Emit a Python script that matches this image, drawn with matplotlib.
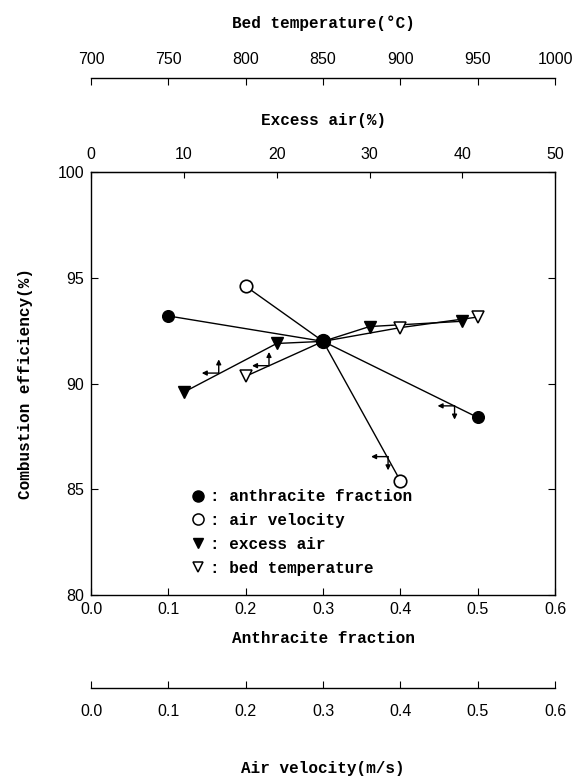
import matplotlib
matplotlib.use("Agg")
import matplotlib.pyplot as plt
import matplotlib.lines as mlines

# data
anth_x = [0.1, 0.3, 0.5]
anth_y = [93.2, 92.0, 88.4]
vel_x = [0.2, 0.3, 0.4]
vel_y = [94.6, 92.0, 85.4]
excess_x = [10, 20, 25, 30, 40]
excess_y = [89.6, 91.9, 92.0, 92.7, 92.95]
bedT_x = [800, 850, 900, 950]
bedT_y = [90.35, 92.0, 92.65, 93.15]

# small arrow pairs drawn on each line (anchor x on main scale, anchor y, vertical direction)
arrow_x = [0.165, 0.230, 0.470, 0.384]
arrow_y = [90.5, 90.85, 88.95, 86.55]
arrow_dir = [1, 1, -1, -1]

mono = "Liberation Mono"
sans = "Liberation Sans"
plt.rcParams['font.family'] = sans
plt.rcParams['font.size'] = 11.5

# conversions between the main anthracite scale and the other axes
def to_excess(x): return x * 50 / 0.6
def from_excess(e): return e * 0.6 / 50
def to_bed(x): return 700 + x * 500
def from_bed(t): return (t - 700) / 500

fig = plt.figure(figsize=(5.77, 7.79), dpi=100)
ax = fig.add_axes([0.158, 0.236, 0.804, 0.543])

lw = 1.0
ax.plot(anth_x, anth_y, color='black', lw=lw, marker='o', ms=8.4, markevery=[0, 2])
ax.plot(vel_x, vel_y, color='black', lw=lw, marker='o', ms=9, mfc='white', mew=1.2, markevery=[0, 2])
ax.plot([from_excess(e) for e in excess_x], excess_y, color='black', lw=lw,
        marker='v', ms=8, markevery=[0, 1, 3, 4])
ax.plot([from_bed(t) for t in bedT_x], bedT_y, color='black', lw=lw,
        marker='v', ms=8.5, mfc='white', mew=1.1, markevery=[0, 2, 3])
ax.plot(anth_x[1], anth_y[1], 'o', color='black', ms=10)

for x, y, d in zip(arrow_x, arrow_y, arrow_dir):
    ax.annotate('', xy=(x - 0.022, y), xytext=(x, y),
                arrowprops=dict(arrowstyle='-|>', color='black', lw=1.0,
                                mutation_scale=7, shrinkA=0, shrinkB=0))
    ax.annotate('', xy=(x, y + d * 0.65), xytext=(x, y),
                arrowprops=dict(arrowstyle='-|>', color='black', lw=1.0,
                                mutation_scale=7, shrinkA=0, shrinkB=0))

lab = dict(family=mono, fontsize=11.5, fontweight='bold')

ax.set_xlim(0, 0.6)
ax.set_ylim(80, 100)
ax.set_xticks([0.0, 0.1, 0.2, 0.3, 0.4, 0.5, 0.6])
ax.set_xticklabels(['0.0', '0.1', '0.2', '0.3', '0.4', '0.5', '0.6'])
ax.set_yticks([80, 85, 90, 95, 100])
ax.tick_params(direction='in', length=5, width=0.8, right=True, labelright=False, pad=5)
ax.set_xlabel('Anthracite fraction', labelpad=10, **lab)
ax.set_ylabel('Combustion efficiency(%)', labelpad=18, **lab)
for s in ax.spines.values():
    s.set_linewidth(1.0)

# top: excess air
top = ax.secondary_xaxis('top', functions=(to_excess, from_excess))
top.set_xticks([0, 10, 20, 30, 40, 50])
top.tick_params(direction='in', length=4, width=0.8, pad=7)
top.set_xlabel('Excess air(%)', labelpad=16, **lab)

# top: bed temperature
bed = ax.secondary_xaxis(1.223, functions=(to_bed, from_bed))
bed.set_xticks([700, 750, 800, 850, 900, 950, 1000])
bed.tick_params(direction='in', length=5, width=0.8, pad=8)
bed.spines['top'].set_linewidth(1.0)
bed.set_xlabel('Bed temperature(°C)', labelpad=17, **lab)

# bottom: air velocity
vel = ax.secondary_xaxis(-0.219, functions=(lambda x: x, lambda x: x))
vel.set_xticks([0.0, 0.1, 0.2, 0.3, 0.4, 0.5, 0.6])
vel.set_xticklabels(['0.0', '0.1', '0.2', '0.3', '0.4', '0.5', '0.6'])
vel.tick_params(direction='in', length=5, width=0.8, pad=12)
vel.spines['bottom'].set_linewidth(1.0)
vel.set_xlabel('Air velocity(m/s)', labelpad=30, **lab)

# legend
h = [mlines.Line2D([], [], ls='', marker='o', color='black', ms=8),
     mlines.Line2D([], [], ls='', marker='o', color='black', mfc='white', ms=8, mew=1.1),
     mlines.Line2D([], [], ls='', marker='v', color='black', ms=7),
     mlines.Line2D([], [], ls='', marker='v', color='black', mfc='white', ms=7, mew=1.1)]
labels = [': anthracite fraction', ': air velocity', ': excess air', ': bed temperature']
ax.legend(h, labels, loc='lower left', bbox_to_anchor=(0.188, 0.02), frameon=False,
          prop={'family': mono, 'size': 11.5, 'weight': 'bold'}, handlelength=1.0,
          handletextpad=0.3, labelspacing=0.55, borderpad=0.2)

fig.savefig('out.png', dpi=100)
